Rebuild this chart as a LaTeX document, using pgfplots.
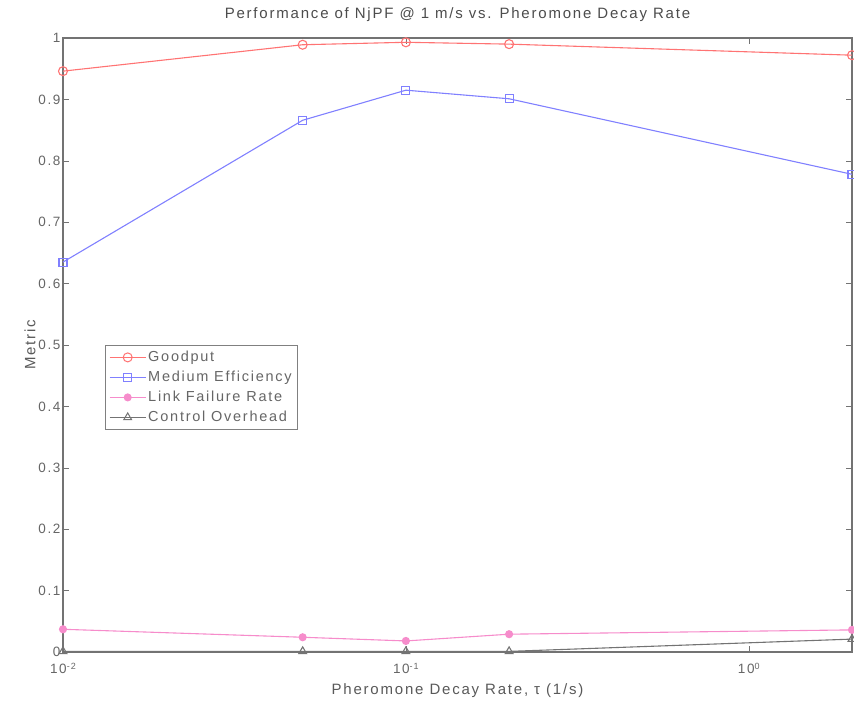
\documentclass[border=0pt]{standalone}
\usepackage{pgfplots}
\pgfplotsset{compat=1.18}
\usepackage{fontspec}
\setmainfont{Liberation Sans}[LetterSpace=12]
\begin{document}
\begin{tikzpicture}[x=1pt,y=1pt]
\path[use as bounding box] (-63,-54) rectangle (791,652);
\begin{axis}[
  at={(0,0)}, anchor=south west,
  scale only axis, width=789pt, height=614pt,
  xmode=log, xmin=0.01, xmax=2, ymin=0, ymax=1,
  log basis x=10,
  xtick={0.01,0.1,1},
  xticklabels={10\raisebox{0.55ex}{\fontsize{9}{9}\selectfont -2},10\raisebox{0.55ex}{\fontsize{9}{9}\selectfont -1},10\raisebox{0.55ex}{\fontsize{9}{9}\selectfont 0}},
  ytick={0,0.1,0.2,0.3,0.4,0.5,0.6,0.7,0.8,0.9,1},
  yticklabels={0,0.1,0.2,0.3,0.4,0.5,0.6,0.7,0.8,0.9,1},
  tick align=inside,
  major tick length=6pt, minor tick length=3pt,
  axis line style={black!55, line width=1.5pt},
  every tick/.style={black!55},
  tick label style={font=\fontsize{13.5}{15}\selectfont, text=black!60},
  xticklabel style={yshift=-8pt},
  yticklabel style={xshift=1pt},
  /pgf/number format/assume math mode=true,
  title={Performance of NjPF @ 1 m/s vs. Pheromone Decay Rate},
  title style={font=\fontsize{15}{17}\selectfont, text=black!70, yshift=7pt},
  xlabel={Pheromone Decay Rate, τ (1/s)},
  ylabel={Metric},
  label style={font=\fontsize{15}{17}\selectfont, text=black!65},
  xlabel style={yshift=-3pt},
  ylabel style={yshift=-4pt},
  legend style={at={(0.053,0.5)}, anchor=north west, font=\fontsize{14.5}{16}\selectfont,
    draw=black!50, line width=0.8pt, text=black!60, row sep=4pt, inner xsep=4pt, inner ysep=4pt},
  legend image code/.code={\draw[mark repeat=2,mark phase=2,line width=1pt] plot coordinates {(0pt,0pt)(18pt,0pt)(36pt,0pt)};},
  legend cell align=left,
  clip=false,
]
\addplot[color=red!55, line width=1.1pt, mark=o, mark size=4.5pt, mark options={solid}]
  coordinates {(0.01,0.946) (0.05,0.989) (0.1,0.993) (0.2,0.990) (2,0.972)};
\addlegendentry{Goodput}
\addplot[color=blue!50, line width=1.1pt, mark=square, mark size=4pt]
  coordinates {(0.01,0.635) (0.05,0.866) (0.1,0.915) (0.2,0.901) (2,0.778)};
\addlegendentry{Medium Efficiency}
\addplot[color=magenta!45, line width=1.1pt, mark=*, mark size=3.5pt]
  coordinates {(0.01,0.037) (0.05,0.024) (0.1,0.018) (0.2,0.029) (2,0.036)};
\addlegendentry{Link Failure Rate}
\addplot[color=black!55, line width=1.1pt, mark=triangle, mark size=4.5pt]
  coordinates {(0.01,0.001) (0.05,0.001) (0.1,0.001) (0.2,0.001) (2,0.021)};
\addlegendentry{Control Overhead}
\end{axis}
\end{tikzpicture}
\end{document}
